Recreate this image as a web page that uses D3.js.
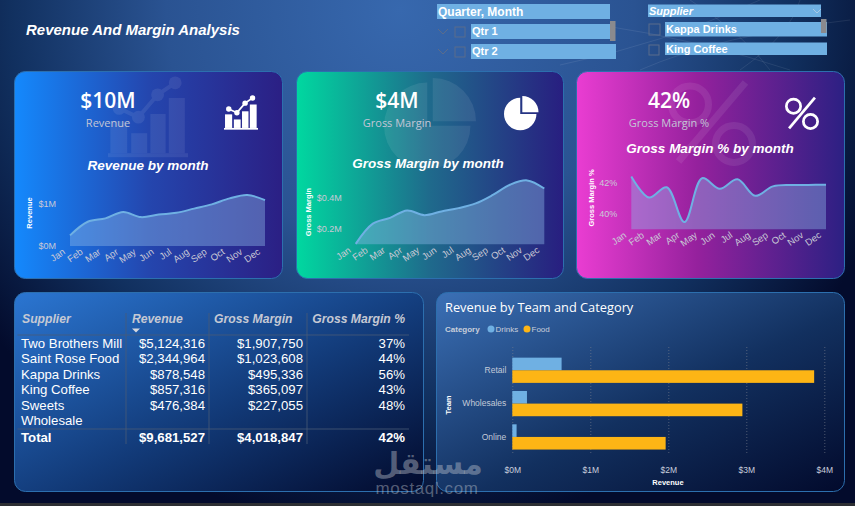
<!DOCTYPE html>
<html>
<head>
<meta charset="utf-8">
<script src="https://cdn.jsdelivr.net/npm/d3@7"></script>
<style>
  html, body { margin: 0; padding: 0; background: #020a28; overflow: hidden; }
  svg { display: block; }
  text { font-family: "Liberation Sans", Arial, sans-serif; }
  .kpi, .panel-title { font-family: "Open Sans", sans-serif; }
</style>
</head>
<body>
<div id="chart"></div>
<script>
// datos del gráfico
const months = ["Jan", "Feb", "Mar", "Apr", "May", "Jun", "Jul", "Aug", "Sep", "Oct", "Nov", "Dec"];
const revenueByMonth = [0.25, 0.57, 0.65, 0.80, 0.68, 0.74, 0.78, 0.88, 0.98, 1.12, 1.20, 1.08];
const marginByMonth = [0.103, 0.232, 0.269, 0.316, 0.286, 0.310, 0.331, 0.361, 0.415, 0.480, 0.508, 0.456];
const marginPctByMonth = [42.37, 41.03, 41.68, 39.46, 42.26, 41.59, 42.19, 41.14, 41.74, 41.83, 41.83, 41.85];

const suppliers = ["Two Brothers Mill", "Saint Rose Food", "Kappa Drinks", "King Coffee", "Sweets Wholesale"];
const supplierRevenue = [5124316, 2344964, 878548, 857316, 476384];
const supplierMargin = [1907750, 1023608, 495336, 365097, 227055];
const supplierPct = [37, 44, 56, 43, 48];
const totals = ["Total", 9681527, 4018847, 42];

const teams = ["Retail", "Wholesales", "Online"];
const categories = ["Drinks", "Food"];
const drinksByTeam = [0.632, 0.188, 0.055];
const foodByTeam = [3.87, 2.95, 1.966];
const revenueTicks = [0, 1, 2, 3, 4];

const width = 855;
const height = 506;

const svg = d3.select("#chart").append("svg")
  .attr("width", width)
  .attr("height", height);

const defs = svg.append("defs");

function linearGrad(id, stops, x1, y1, x2, y2) {
  const g = defs.append("linearGradient").attr("id", id)
    .attr("x1", x1).attr("y1", y1).attr("x2", x2).attr("y2", y2);
  stops.forEach(s => g.append("stop").attr("offset", s[0]).attr("stop-color", s[1]));
}

linearGrad("cardBlue", [[0, "#1489fd"], [0.5, "#2446ae"], [1, "#2b1f84"]], 0, 0, 1, 0);
linearGrad("cardGreen", [[0, "#00d8a0"], [0.5, "#1f6a8c"], [1, "#281e80"]], 0, 0, 1, 0);
linearGrad("cardPink", [[0, "#ea3dd2"], [0.45, "#95219d"], [1, "#2c2083"]], 0, 0, 1, 0);
linearGrad("tablePanel", [[0, "#2b76d2"], [0.55, "#123a78"], [1, "#020a2c"]], 0, 0, 1, 1);
linearGrad("barPanel", [[0, "#3b70b6"], [0.55, "#12305f"], [1, "#020a2c"]], 0, 0, 1, 1);

const bgGrad = defs.append("radialGradient").attr("id", "bg")
  .attr("gradientUnits", "userSpaceOnUse")
  .attr("cx", 400).attr("cy", 10).attr("r", 520);
[[0, "#3768ae"], [0.45, "#2a5392"], [0.75, "#11305f"], [1, "#030b2c"]]
  .forEach(s => bgGrad.append("stop").attr("offset", s[0]).attr("stop-color", s[1]));

// fondo
svg.append("rect").attr("width", width).attr("height", height).attr("fill", "url(#bg)");
svg.append("rect").attr("y", 503).attr("width", width).attr("height", 3).attr("fill", "#2d2f33");

// líneas tenues de arriba a la derecha
const webLines = [
  "M600 25 Q700 40 790 70", "M640 70 Q720 35 850 20", "M690 0 Q745 35 770 70",
  "M560 65 Q660 45 760 0", "M800 0 Q790 35 740 70"
];
svg.selectAll("path.web").data(webLines).join("path")
  .attr("class", "web")
  .attr("d", d => d)
  .attr("fill", "none")
  .attr("stroke", "#fff")
  .attr("stroke-opacity", 0.12)
  .attr("stroke-width", 0.7);

// título
svg.append("text").attr("x", 26).attr("y", 30).attr("dy", "0.35em")
  .attr("fill", "#fff").attr("font-size", 15).attr("font-weight", 700).attr("font-style", "italic")
  .text("Revenue And Margin Analysis");

// filtros
const sliceFill = "#6fb0e3";
function sliceBox(x, y, w, h, label, opts = {}) {
  svg.append("rect").attr("x", x).attr("y", y).attr("width", w).attr("height", h).attr("fill", sliceFill);
  svg.append("text").attr("x", x + 1).attr("y", y + h / 2).attr("dy", "0.35em")
    .attr("fill", "#fff").attr("font-size", opts.size || 11).attr("font-weight", 700)
    .attr("font-style", opts.italic ? "italic" : "normal")
    .text(label);
}
function checkBox(x, y, s) {
  svg.append("rect").attr("x", x).attr("y", y).attr("width", s).attr("height", s)
    .attr("fill", "none").attr("stroke", "#5a6c8c").attr("stroke-width", 1);
}
function chevron(x, y, w, color) {
  svg.append("path").attr("d", `M${x} ${y} L${x + w / 2} ${y + w / 2} L${x + w} ${y}`)
    .attr("fill", "none").attr("stroke", color).attr("stroke-width", 1);
}
function scrollThumb(x, y, h) {
  svg.append("rect").attr("x", x).attr("y", y).attr("width", 5.5).attr("height", h).attr("fill", "#8a8a8e");
}

sliceBox(437, 4, 173, 15, "Quarter, Month", { size: 12 });
sliceBox(471, 24, 139, 15, "Qtr 1");
sliceBox(471, 44, 145, 15, "Qtr 2");
checkBox(455, 27, 10);
checkBox(455, 47, 10);
chevron(438, 29, 10, "#5a6c8c");
chevron(438, 49, 10, "#5a6c8c");
scrollThumb(610, 21, 20);

sliceBox(648, 4.5, 173, 12.5, "Supplier", { italic: true, size: 11 });
chevron(813, 9, 8, "#a8c8e4");
sliceBox(665, 22, 162, 14.5, "Kappa Drinks");
sliceBox(665, 42.5, 162, 12.5, "King Coffee");
checkBox(649, 24, 11);
checkBox(649, 45, 10);
scrollThumb(821, 19, 14);

// paneles
function panel(x, y, w, h, fill) {
  svg.append("rect").attr("x", x + 0.5).attr("y", y + 0.5).attr("width", w).attr("height", h)
    .attr("rx", 11).attr("fill", fill).attr("stroke", "#2c6fae").attr("stroke-width", 1);
}

// iconos: k es el tamaño de una unidad, (x, y) es la esquina
function barsIcon(g, x, y, k) {
  const barsData = [[3, 54, 21, 40], [29, 69, 20, 25], [53, 45, 19, 49], [76, 25, 20, 69]];
  g.selectAll("rect.b").data(barsData).join("rect")
    .attr("class", "b")
    .attr("x", d => x + d[0] * k).attr("y", d => y + d[1] * k)
    .attr("width", d => d[2] * k).attr("height", d => d[3] * k);
  g.append("rect").attr("x", x).attr("y", y + 94 * k).attr("width", 100 * k).attr("height", 5 * k);
  const pts = [[14, 38], [38, 49], [62, 21], [84, 6]];
  g.append("path").attr("d", d3.line().x(d => x + d[0] * k).y(d => y + d[1] * k)(pts))
    .attr("fill", "none").attr("stroke", g.attr("fill")).attr("stroke-width", 5 * k);
  g.selectAll("circle").data(pts).join("circle")
    .attr("cx", d => x + d[0] * k).attr("cy", d => y + d[1] * k).attr("r", 8 * k);
}

function pieIcon(g, x, y, k) {
  const arc = d3.arc();
  g.append("path").attr("transform", `translate(${x + 47 * k},${y + 52 * k})`)
    .attr("d", arc({ innerRadius: 0, outerRadius: 47 * k, startAngle: Math.PI / 2, endAngle: 2 * Math.PI }));
  g.append("path").attr("transform", `translate(${x + 53 * k},${y + 47 * k})`)
    .attr("d", arc({ innerRadius: 0, outerRadius: 47 * k, startAngle: 0, endAngle: Math.PI / 2 }));
}

function pctIcon(g, x, y, k) {
  g.attr("stroke", g.attr("fill"));
  [[25, 30], [75, 75]].forEach(c => {
    g.append("circle").attr("cx", x + c[0] * k).attr("cy", y + c[1] * k).attr("r", 21 * k)
      .attr("fill", "none").attr("stroke-width", 8 * k);
  });
  g.append("line").attr("x1", x + 88 * k).attr("y1", y + 5 * k)
    .attr("x2", x + 12 * k).attr("y2", y + 95 * k).attr("stroke-width", 8 * k);
}

// tarjetas con su gráfico de área
function card(o) {
  panel(o.x, 71, o.w, 207, `url(#${o.fill})`);

  const ghost = svg.append("g").attr("fill", "#fff").attr("opacity", 0.08);
  o.icon(ghost, o.ghost[0], o.ghost[1], o.ghost[2]);

  svg.append("text").attr("class", "kpi").attr("x", o.kpiX).attr("y", 101).attr("dy", "0.35em")
    .attr("text-anchor", "middle").attr("fill", "#fff").attr("font-size", 21).attr("font-weight", 600)
    .text(o.kpi);
  svg.append("text").attr("class", "kpi").attr("x", o.kpiX).attr("y", 123).attr("dy", "0.35em")
    .attr("text-anchor", "middle").attr("fill", "#c3c6d6").attr("font-size", 11)
    .text(o.label);

  const small = svg.append("g").attr("fill", "#fff");
  o.icon(small, o.iconAt[0], o.iconAt[1], o.iconAt[2]);

  svg.append("text").attr("x", o.titleX).attr("y", o.titleY).attr("dy", "0.35em")
    .attr("text-anchor", "middle").attr("fill", "#fff").attr("font-size", 13.5)
    .attr("font-weight", 700).attr("font-style", "italic")
    .text(o.title);

  const x = d3.scalePoint().domain(months).range(o.xRange);
  const y = d3.scaleLinear().domain(o.yDomain).range(o.yRange);
  const base = o.yRange[0];

  const area = d3.area()
    .x((d, i) => x(months[i]))
    .y0(base)
    .y1(d => y(d))
    .curve(o.curve);
  const line = d3.line()
    .x((d, i) => x(months[i]))
    .y(d => y(d))
    .curve(o.curve);

  svg.append("path").attr("d", area(o.values)).attr("fill", "#8cb8e8").attr("fill-opacity", 0.42);
  svg.append("path").attr("d", line(o.values)).attr("fill", "none")
    .attr("stroke", "#6fb0e3").attr("stroke-width", 2);

  const xAxis = svg.append("g").attr("transform", `translate(0,${base})`)
    .call(d3.axisBottom(x).tickSize(0));
  xAxis.select(".domain").remove();
  xAxis.selectAll("text")
    .attr("font-family", "'Liberation Sans'").attr("font-size", 9.5).attr("fill", "#c9c9d6")
    .attr("text-anchor", "end").attr("x", -8).attr("y", 0).attr("dy", "0.35em")
    .attr("transform", "rotate(-35)");

  const yAxis = svg.append("g").attr("transform", `translate(${o.xRange[0]},0)`)
    .call(d3.axisLeft(y).tickValues(o.yTicks).tickFormat(o.yFormat).tickSize(0).tickPadding(14));
  yAxis.select(".domain").remove();
  yAxis.selectAll("text")
    .attr("font-family", "'Liberation Sans'").attr("font-size", 9).attr("fill", "#c9c9d6");

  svg.append("text")
    .attr("transform", `translate(${o.axisLabel[0]},${o.axisLabel[1]}) rotate(-90)`)
    .attr("dy", "0.35em").attr("text-anchor", "middle")
    .attr("fill", "#fff").attr("font-size", 7.5).attr("font-weight", 700)
    .text(o.axisLabel[2]);
}

card({
  x: 14, w: 268, fill: "cardBlue", icon: barsIcon, ghost: [108, 78, 0.8], iconAt: [224, 96, 0.34],
  kpi: "$10M", label: "Revenue", kpiX: 108,
  title: "Revenue by month", titleX: 148, titleY: 165,
  values: revenueByMonth, xRange: [70, 265], yDomain: [0, 1], yRange: [246, 203.5],
  yTicks: [0, 1], yFormat: d => `$${d}M`, curve: d3.curveCatmullRom,
  axisLabel: [29, 213, "Revenue"]
});
card({
  x: 296, w: 267, fill: "cardGreen", icon: pieIcon, ghost: [384, 78, 0.92], iconAt: [504, 96, 0.345],
  kpi: "$4M", label: "Gross Margin", kpiX: 397,
  title: "Gross Margin by month", titleX: 428, titleY: 163,
  values: marginByMonth, xRange: [355.7, 544.3], yDomain: [0.1, 0.4], yRange: [244.3, 197.3],
  yTicks: [0.2, 0.4], yFormat: d => `$${d}M`, curve: d3.curveCatmullRom,
  axisLabel: [308, 212, "Gross Margin"]
});
card({
  x: 576, w: 268, fill: "cardPink", icon: pctIcon, ghost: [668, 78, 0.88], iconAt: [785, 96, 0.34],
  kpi: "42%", label: "Gross Margin %", kpiX: 669,
  title: "Gross Margin % by month", titleX: 710, titleY: 148,
  values: marginPctByMonth, xRange: [631.3, 826], yDomain: [39, 42], yRange: [229.3, 182.3],
  yTicks: [40, 42], yFormat: d => `${d}%`, curve: d3.curveCatmullRom,
  axisLabel: [591, 198, "Gross Margin %"]
});

// tabla de proveedores
panel(14, 292, 409, 199, "url(#tablePanel)");

const colRight = [null, 205, 303, 405];
const colLeft = 21;
const headers = ["Supplier", "Revenue", "Gross Margin", "Gross Margin %"];
const headerX = [22, 132, 214, 405];
const money = d3.format("$,");
const rowHeight = 15.4;
const firstRow = 343;

const headerSel = svg.append("g").attr("font-size", 12.2).attr("font-weight", 700).attr("font-style", "italic")
  .attr("fill", "#c5c9d4");
headerSel.selectAll("text").data(headers).join("text")
  .attr("x", (d, i) => headerX[i])
  .attr("y", 319)
  .attr("dy", "0.35em")
  .attr("text-anchor", (d, i) => i === 3 ? "end" : "start")
  .text(d => d);

svg.append("path").attr("d", "M132 328.5 h8 l-4 4 z").attr("fill", "#d6d8de");

const ruleColor = "#4a5a76";
[[17.5, 335, 409, 335], [17.5, 429, 409, 429], [126, 313, 126, 444], [209, 313, 209, 444], [307, 313, 307, 444]]
  .forEach(r => svg.append("line").attr("x1", r[0]).attr("y1", r[1]).attr("x2", r[2]).attr("y2", r[3])
    .attr("stroke", ruleColor).attr("stroke-width", 0.8));

const rows = suppliers.map((s, i) => [s, supplierRevenue[i], supplierMargin[i], supplierPct[i]]);
const rowSel = svg.append("g").attr("fill", "#fff").attr("font-size", 13.2)
  .selectAll("g").data(rows).join("g")
  .attr("transform", (d, i) => `translate(0,${firstRow + i * rowHeight + (i > 1 ? 0.4 : 0)})`);

rowSel.append("text").attr("x", colLeft)
  .each(function (d) {
    // "Sweets Wholesale" se parte en dos líneas como en la columna original
    const parts = d[0] === "Sweets Wholesale" ? ["Sweets", "Wholesale"] : [d[0]];
    d3.select(this).selectAll("tspan").data(parts).join("tspan")
      .attr("x", colLeft)
      .attr("dy", (p, i) => i === 0 ? "0.35em" : `${rowHeight}px`)
      .text(p => p);
  });
[1, 2, 3].forEach(c => {
  rowSel.append("text").attr("x", colRight[c]).attr("dy", "0.35em").attr("text-anchor", "end")
    .text(d => c === 3 ? `${d[c]}%` : money(d[c]));
});

const totalSel = svg.append("g").attr("fill", "#fff").attr("font-size", 13.2).attr("font-weight", 700);
totalSel.selectAll("text").data(totals).join("text")
  .attr("x", (d, i) => i === 0 ? colLeft : colRight[i])
  .attr("y", 437)
  .attr("dy", "0.35em")
  .attr("text-anchor", (d, i) => i === 0 ? "start" : "end")
  .text((d, i) => i === 0 ? d : i === 3 ? `${d}%` : money(d));

// gráfico de barras
panel(436, 292, 408, 199, "url(#barPanel)");

svg.append("text").attr("class", "panel-title").attr("x", 445).attr("y", 308).attr("dy", "0.35em")
  .attr("fill", "#fff").attr("font-size", 12.8).text("Revenue by Team and Category");

svg.append("text").attr("x", 445).attr("y", 329).attr("dy", "0.35em")
  .attr("fill", "#c9cfdb").attr("font-size", 8).attr("font-weight", 700).text("Category");

const catColor = d3.scaleOrdinal().domain(categories).range(["#6fb0e3", "#fdb515"]);
const legendX = d3.scaleOrdinal().domain(categories).range([491, 527]);
const legend = svg.append("g").selectAll("g").data(categories).join("g")
  .attr("transform", d => `translate(${legendX(d)},329)`);
legend.append("circle").attr("r", 3.5).attr("fill", d => catColor(d));
legend.append("text").attr("x", 4.5).attr("dy", "0.35em").attr("fill", "#c9cfdb").attr("font-size", 8).text(d => d);

const barX = d3.scaleLinear().domain([0, 4]).range([512.3, 824.3]);
const barY = d3.scaleBand().domain(teams).range([353.6, 453.6]).paddingInner(0.243).paddingOuter(0.1215);
const barInner = d3.scaleBand().domain(categories).range([0, barY.bandwidth()]);

const gridAxis = svg.append("g").attr("transform", "translate(0,453)")
  .call(d3.axisBottom(barX).tickValues(revenueTicks).tickFormat(d => `$${d}M`).tickSize(-106).tickPadding(14));
gridAxis.select(".domain").remove();
gridAxis.selectAll("line").attr("stroke", "#7b8290").attr("stroke-opacity", 0.6).attr("stroke-dasharray", "1 2");
gridAxis.selectAll("text").attr("font-family", "'Liberation Sans'").attr("font-size", 8.5).attr("fill", "#c9cfdb");

const teamRows = teams.map((t, i) => ({ team: t, values: [["Drinks", drinksByTeam[i]], ["Food", foodByTeam[i]]] }));
svg.append("g").selectAll("g").data(teamRows).join("g")
  .attr("transform", d => `translate(0,${barY(d.team)})`)
  .selectAll("rect").data(d => d.values).join("rect")
  .attr("x", barX(0))
  .attr("y", d => barInner(d[0]))
  .attr("width", d => barX(d[1]) - barX(0))
  .attr("height", barInner.bandwidth())
  .attr("fill", d => catColor(d[0]));

const teamAxis = svg.append("g").attr("transform", "translate(512.3,0)")
  .call(d3.axisLeft(barY).tickSize(0).tickPadding(6));
teamAxis.select(".domain").remove();
teamAxis.selectAll("text").attr("font-family", "'Liberation Sans'").attr("font-size", 8.5).attr("fill", "#c3cad8");

svg.append("text").attr("x", 668).attr("y", 482).attr("dy", "0.35em").attr("text-anchor", "middle")
  .attr("fill", "#fff").attr("font-size", 7.5).attr("font-weight", 700).text("Revenue");
svg.append("text").attr("transform", "translate(448,405) rotate(-90)").attr("dy", "0.35em")
  .attr("text-anchor", "middle").attr("fill", "#fff").attr("font-size", 7.5).attr("font-weight", 700).text("Team");

// marca de agua
svg.append("text").attr("x", 428).attr("y", 463).attr("dy", "0.35em").attr("text-anchor", "middle")
  .attr("fill", "#c4c9d2").attr("fill-opacity", 0.42).attr("font-size", 30).attr("font-weight", 700)
  .style("font-family", "'DejaVu Sans'")
  .text("مستقل");
svg.append("text").attr("x", 427).attr("y", 488).attr("dy", "0.35em").attr("text-anchor", "middle")
  .attr("fill", "#c4c9d2").attr("fill-opacity", 0.42).attr("font-size", 17).attr("letter-spacing", 0.6)
  .text("mostaql.com");
</script>
</body>
</html>
